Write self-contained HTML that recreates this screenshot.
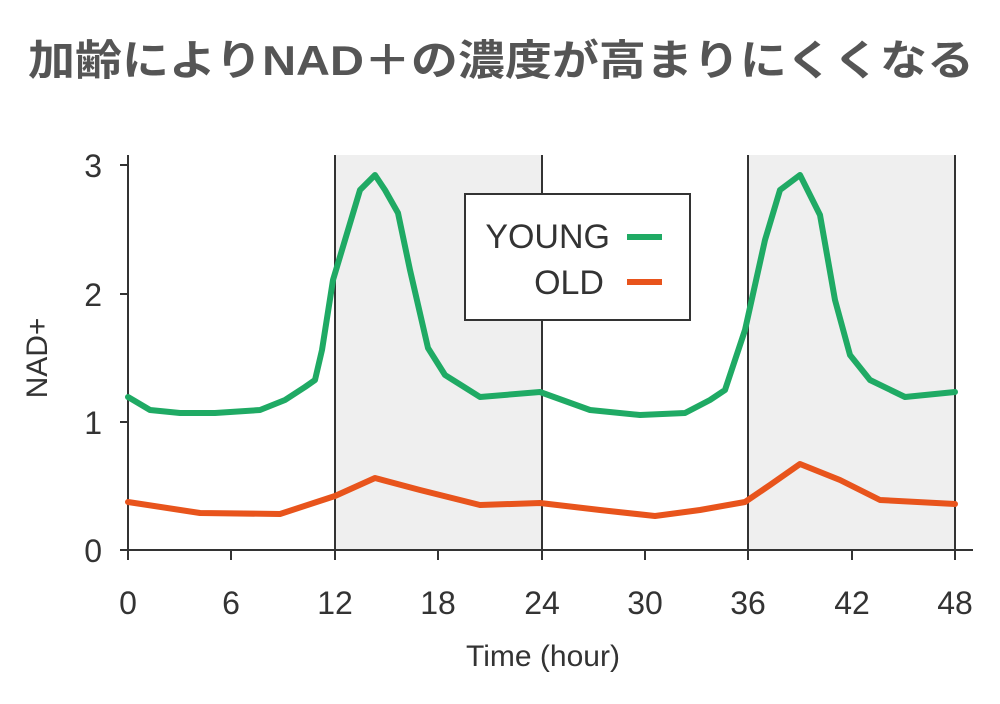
<!DOCTYPE html>
<html><head><meta charset="utf-8"><style>
html,body{margin:0;padding:0;background:#fff;}
body{width:1000px;height:699px;overflow:hidden;}
</style></head><body>
<svg width="1000" height="699" viewBox="0 0 1000 699" xmlns="http://www.w3.org/2000/svg" font-family="Liberation Sans, Noto Sans CJK JP, sans-serif">
<text x="28" y="75" font-size="42" font-weight="bold" fill="#555" textLength="946" lengthAdjust="spacingAndGlyphs" font-family="Liberation Sans, Noto Sans CJK JP, sans-serif">加齢によりNAD＋の濃度が高まりにくくなる</text>
<rect x="335" y="155" width="207" height="395" fill="#efefef"/>
<rect x="748" y="155" width="207" height="395" fill="#efefef"/>
<g stroke="#333" stroke-width="2" fill="none">
<line x1="128" y1="155" x2="128" y2="551"/>
<line x1="127" y1="550" x2="973" y2="550"/>
<line x1="335" y1="155" x2="335" y2="550"/>
<line x1="542" y1="155" x2="542" y2="550"/>
<line x1="748" y1="155" x2="748" y2="550"/>
<line x1="955" y1="155" x2="955" y2="550"/>
<line x1="120" y1="165" x2="128" y2="165"/>
<line x1="120" y1="294" x2="128" y2="294"/>
<line x1="120" y1="422" x2="128" y2="422"/>
<line x1="120" y1="550" x2="128" y2="550"/>
<line x1="128" y1="550" x2="128" y2="560"/>
<line x1="231" y1="550" x2="231" y2="560"/>
<line x1="335" y1="550" x2="335" y2="560"/>
<line x1="438" y1="550" x2="438" y2="560"/>
<line x1="542" y1="550" x2="542" y2="560"/>
<line x1="645" y1="550" x2="645" y2="560"/>
<line x1="748" y1="550" x2="748" y2="560"/>
<line x1="852" y1="550" x2="852" y2="560"/>
<line x1="955" y1="550" x2="955" y2="560"/>
</g>
<g font-size="32" fill="#333" text-anchor="end">
<text x="102" y="177">3</text><text x="102" y="306">2</text><text x="102" y="434">1</text><text x="102" y="562">0</text>
</g>
<g font-size="32" fill="#333" text-anchor="middle">
<text x="128" y="614">0</text><text x="231" y="614">6</text><text x="335" y="614">12</text><text x="438" y="614">18</text><text x="542" y="614">24</text><text x="645" y="614">30</text><text x="748" y="614">36</text><text x="852" y="614">42</text><text x="955" y="614">48</text>
</g>
<text x="543" y="666" font-size="30" fill="#333" text-anchor="middle">Time (hour)</text>
<text transform="translate(47,358) rotate(-90)" font-size="30" fill="#333" text-anchor="middle">NAD+</text>
<polyline fill="none" stroke="#1faa64" stroke-width="6" stroke-linejoin="round" stroke-linecap="round" points="128,397 150,410 180,413 215,413 260,410 285,400 305,387 315,380 322,350 333,280 345,240 360,190 375,175 385,190 398,213 410,270 428,348 445,375 480,397 540,392 590,410 640,415 685,413 710,400 725,390 745,330 765,240 780,190 800,175 820,215 835,300 850,355 870,380 905,397 955,392"/>
<polyline fill="none" stroke="#e8541c" stroke-width="6" stroke-linejoin="round" stroke-linecap="round" points="128,502 200,513 280,514 335,496 375,478 420,490 480,505 540,503 600,510 655,516 700,510 745,502 770,485 800,464 840,480 880,500 955,504"/>
<rect x="465" y="194" width="225" height="126" fill="#fff" stroke="#333" stroke-width="2"/>
<text x="610" y="248" font-size="34" fill="#333" text-anchor="end">YOUNG</text>
<line x1="627" y1="237" x2="662" y2="237" stroke="#1faa64" stroke-width="6"/>
<text x="604" y="294" font-size="34" fill="#333" text-anchor="end">OLD</text>
<line x1="627" y1="282" x2="662" y2="282" stroke="#e8541c" stroke-width="6"/>
</svg>
</body></html>
